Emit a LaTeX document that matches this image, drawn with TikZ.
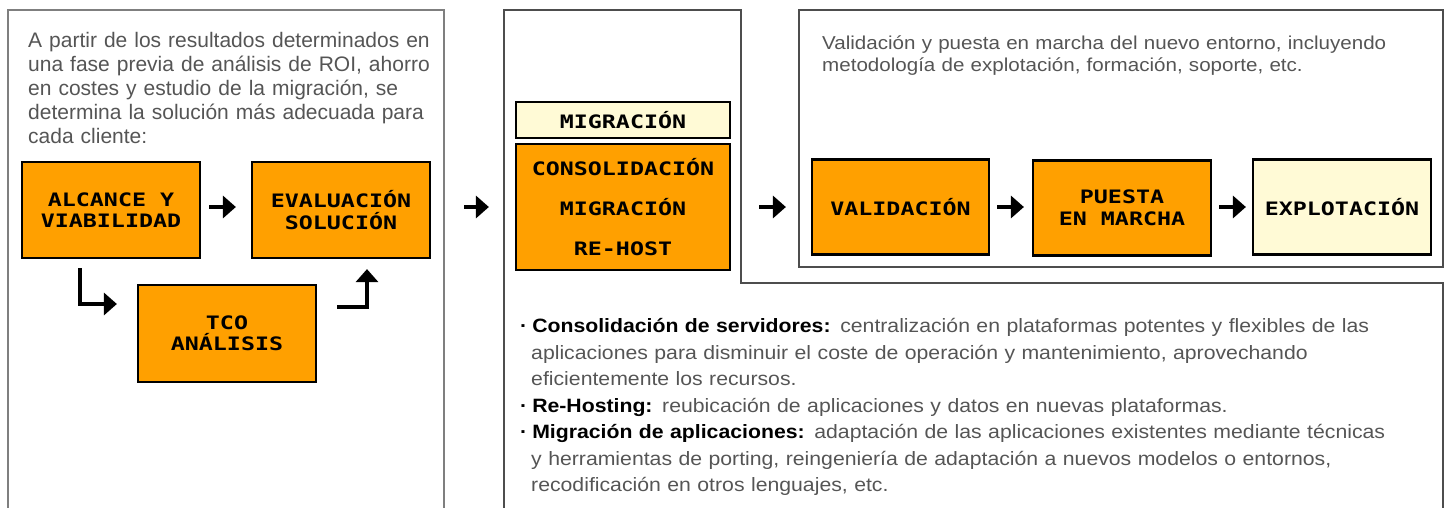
\documentclass[tikz,border=0pt]{standalone}
\usepackage{fontspec}
\setmainfont{Liberation Sans}
\newfontfamily\pixfont[FakeStretch=1.26]{DejaVu Sans Mono}
\newfontfamily\widefont[FakeStretch=1.1]{Liberation Sans}
\usetikzlibrary{arrows.meta,positioning}
\definecolor{boxorange}{HTML}{FFA000}
\definecolor{boxcream}{HTML}{FFFAD6}
\definecolor{txtgray}{HTML}{555555}
\definecolor{leftline}{HTML}{7F7F7F}
\definecolor{midline}{HTML}{4D4D4D}
\newcommand{\keyterm}[1]{\textcolor{black}{\textbf{#1}}}
\newcommand{\bul}{\keyterm{·}\hspace{5pt}}

\begin{document}
\begin{tikzpicture}[x=1pt, y=1pt,
    stage/.style={draw=black, line width=2.2pt, fill=boxorange, text=black,
      font=\pixfont\bfseries\fontsize{18.5}{21.5}\selectfont, align=center,
      inner sep=0pt, minimum width=178pt, minimum height=96pt},
    lightstage/.style={stage, fill=boxcream},
    arr/.style={line width=3.5pt, -{Triangle[length=13pt,width=22pt]}},
    panel/.style={draw=midline, line width=1.3pt},
    info/.style={text=txtgray, align=left, inner sep=0pt, anchor=north west}]
    \useasboundingbox (0,0) rectangle (1451,-508);

    % Panels
    \draw[draw=leftline, line width=2pt] (8,-508) -- (8,-10) -- (444,-10) -- (444,-508);
    \draw[panel] (504,-508) -- (504,-10) -- (741,-10) -- (741,-283) -- (1443,-283) -- (1443,-508);
    \draw[panel] (799,-10) rectangle (1443,-267);

    % Texts
    \node[info, text width=412pt, font=\fontsize{21}{24}\selectfont] (intro) at (28,-32)
      {A partir de los resultados determinados en\\
       una fase previa de análisis de ROI, ahorro\\
       \mbox{en costes y estudio de la migraci\'on, se}\\
       determina la solución más adecuada para\\
       cada cliente:};
    \node[info, text width=610pt, font=\widefont\fontsize{18.7}{22}\selectfont] (valtxt) at (822,-36)
      {Validación y puesta en marcha del nuevo entorno, incluyendo\\
       metodología de explotación, formación, soporte, etc.};
    \node[info, text width=910pt, font=\widefont\fontsize{19.3}{26.5}\selectfont] (types) at (520,-318.5)
      {\bul\keyterm{Consolidación de servidores:} centralización en plataformas potentes y flexibles de las\\
       \hspace*{11pt}aplicaciones para disminuir el coste de operación y mantenimiento, aprovechando\\
       \hspace*{11pt}eficientemente los recursos.\\
       \bul\keyterm{Re-Hosting:} reubicación de aplicaciones y datos en nuevas plataformas.\\
       \bul\keyterm{Migración de aplicaciones:} adaptación de las aplicaciones existentes mediante técnicas\\
       \hspace*{11pt}y herramientas de porting, reingeniería de adaptación a nuevos modelos o entornos,\\
       \hspace*{11pt}recodificación en otros lenguajes, etc.};

    % Stages
    \node[stage] (alc) at (111,-210) {ALCANCE Y\\VIABILIDAD};
    \node[stage] (eva) at (341,-210) {EVALUACIÓN\\SOLUCIÓN};
    \node[stage, minimum height=97pt] (tco) at (227,-333.5) {TCO\\ANÁLISIS};
    \node[lightstage, minimum width=214pt, minimum height=36pt] (mig) at (623,-120) {MIGRACIÓN};
    \node[stage, minimum width=214pt, minimum height=126pt] (cons) at (623,-207)
      {CONSOLIDACIÓN\\[18.5pt]MIGRACIÓN\\[18.5pt]RE-HOST};
    \node[stage, minimum width=177pt, minimum height=95pt] (val) at (900.5,-207) {VALIDACIÓN};
    \node[stage, minimum height=95pt] (pue) at (1122,-208) {PUESTA\\EN MARCHA};
    \node[lightstage, minimum height=95pt] (exp) at (1342,-207) {EXPLOTACIÓN};

    % Arrows
    \draw[arr] ([shift={(8pt,3pt)}]alc.east) -- ([shift={(-15pt,3pt)}]eva.west);
    \draw[arr] ([shift={(-31pt,-9pt)}]alc.south) |- ([shift={(-20pt,29.5pt)}]tco.west);
    \draw[arr] ([shift={(20pt,26.5pt)}]tco.east) -| ([shift={(26pt,-10pt)}]eva.south);
    \draw[arr] ([shift={(33pt,3pt)}]eva.east) -- ([xshift=-26pt]cons.west);
    \draw[arr] ([xshift=28pt]cons.east) -- ([xshift=-25pt]val.west);
    \draw[arr] ([xshift=7pt]val.east) -- ([shift={(-8pt,1pt)}]pue.west);
    \draw[arr] ([shift={(7pt,1pt)}]pue.east) -- ([xshift=-6pt]exp.west);
\end{tikzpicture}
\end{document}
